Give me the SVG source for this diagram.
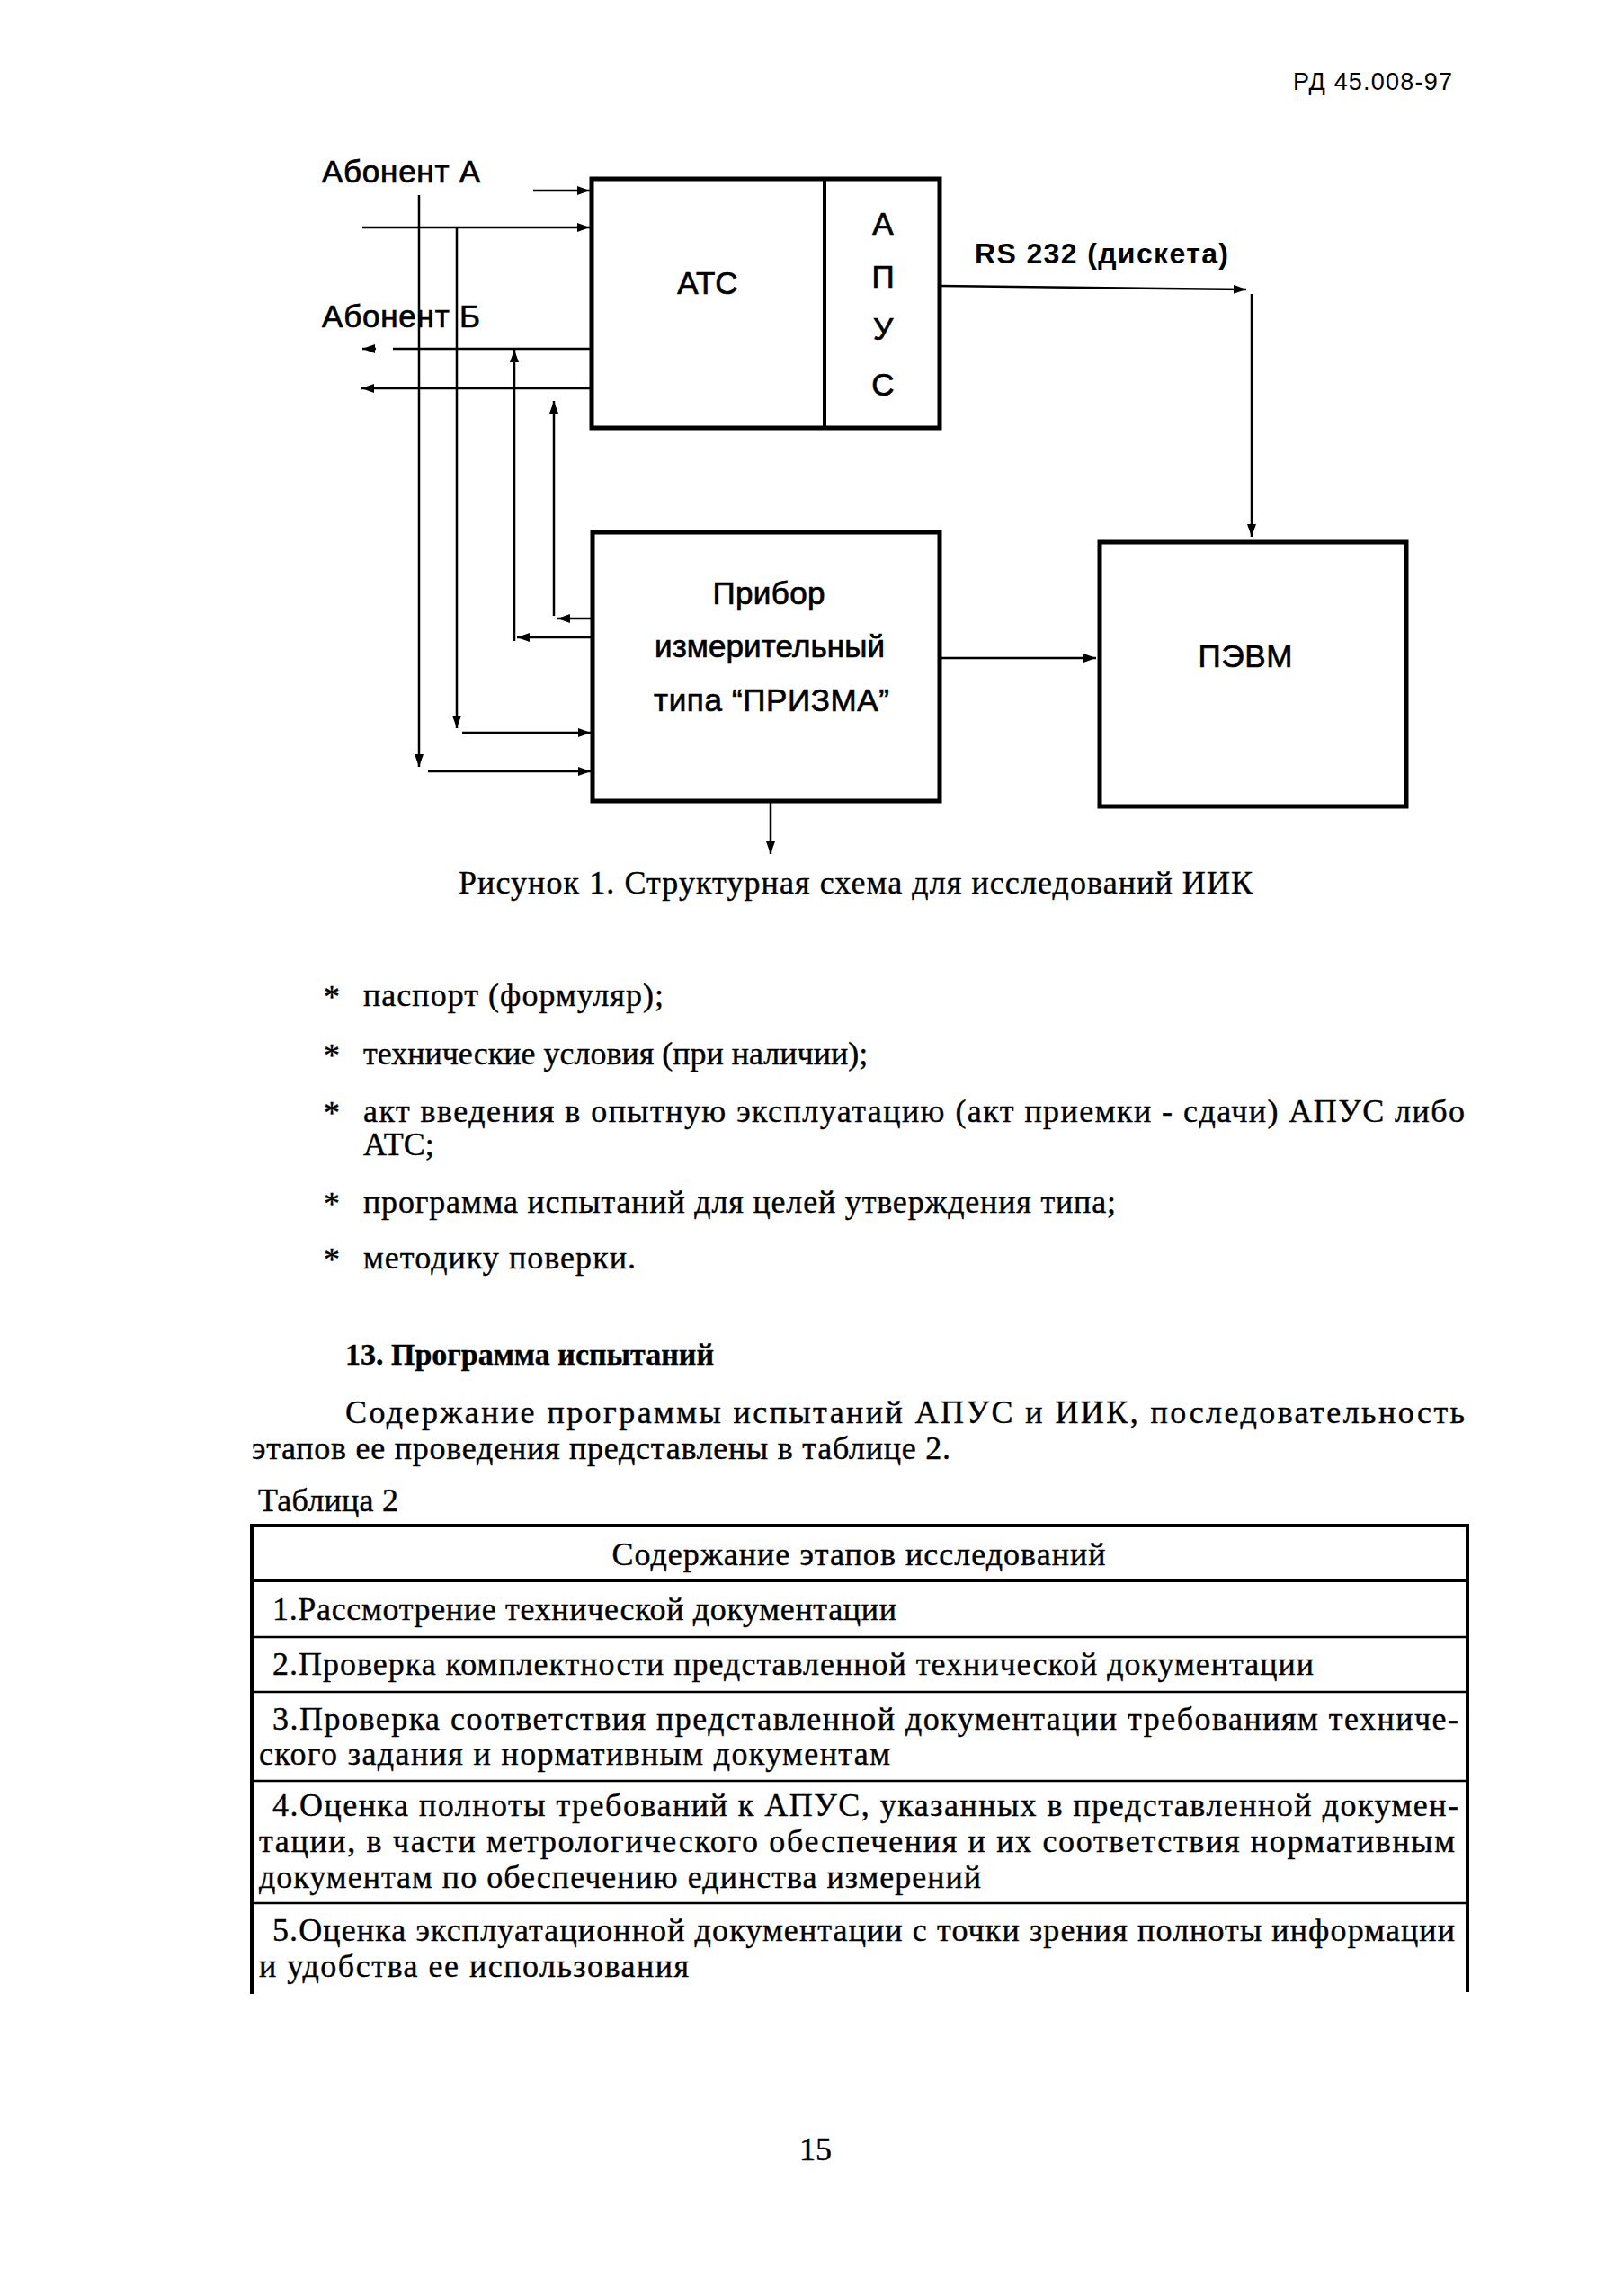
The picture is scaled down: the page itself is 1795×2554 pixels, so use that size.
<svg xmlns="http://www.w3.org/2000/svg" width="1795" height="2554" viewBox="0 0 1795 2554">
<style>
.bg{fill:#ffffff}
.box{fill:none;stroke:#000;stroke-width:5}
.div{stroke:#000;stroke-width:4}
.ln{fill:none;stroke:#000;stroke-width:2.5}
.lbl{font-family:"Liberation Sans",Arial,sans-serif;font-size:35px;fill:#000;stroke:#000;stroke-width:0.7}
.c{text-anchor:middle}
.rs{font-family:"Liberation Sans",Arial,sans-serif;font-size:32px;font-weight:bold;fill:#000}
.hdr{font-family:"Liberation Sans",Arial,sans-serif;font-size:27px;fill:#000}
.tx{font-family:"Liberation Serif","Times New Roman",serif;font-size:36px;fill:#000;stroke:#000;stroke-width:0.4}
.b{font-weight:bold;font-size:34px}
.tb{fill:none;stroke:#000;stroke-width:2.5}
.tbk{fill:none;stroke:#000;stroke-width:4}
</style>
<defs>
<marker id="ah" markerUnits="userSpaceOnUse" markerWidth="16" markerHeight="12" refX="14" refY="5" orient="auto">
<path d="M0,0 L14,5 L0,10 z" fill="#000"/>
</marker>
</defs>
<rect class="bg" x="0" y="0" width="1795" height="2554"/>

<text class="hdr" x="1438" y="100" textLength="177" lengthAdjust="spacing">РД 45.008-97</text>

<g id="labels">
<text class="lbl" x="358" y="203" textLength="176" lengthAdjust="spacing">Абонент А</text>
<text class="lbl" x="358" y="364" textLength="176" lengthAdjust="spacing">Абонент Б</text>
<text class="rs" x="1084" y="293" textLength="282" lengthAdjust="spacing">RS 232 (дискета)</text>
</g>

<g id="node-ats">
<rect class="box" x="658" y="199" width="387" height="277"/>
<text class="lbl c" x="787" y="327">АТС</text>
</g>

<g id="node-apus">
<line class="div" x1="917" y1="199" x2="917" y2="476"/>
<text class="lbl c" x="982" y="261">А</text>
<text class="lbl c" x="982" y="320">П</text>
<text class="lbl c" x="982" y="378">У</text>
<text class="lbl c" x="982" y="440">С</text>
</g>

<g id="node-prizma">
<rect class="box" x="659" y="592" width="386" height="299"/>
<text class="lbl c" x="855" y="672" textLength="125" lengthAdjust="spacing">Прибор</text>
<text class="lbl c" x="856" y="731" textLength="256" lengthAdjust="spacing">измерительный</text>
<text class="lbl c" x="858" y="791" textLength="262" lengthAdjust="spacing">типа “ПРИЗМА”</text>
</g>

<g id="node-pevm">
<rect class="box" x="1223" y="603" width="341" height="294"/>
<text class="lbl c" x="1385" y="742" textLength="105" lengthAdjust="spacing">ПЭВМ</text>
</g>

<g id="connectors">
<path class="ln" d="M593,212 H656" marker-end="url(#ah)"/>
<path class="ln" d="M403,253 H656" marker-end="url(#ah)"/>
<path class="ln" d="M466,217 V853" marker-end="url(#ah)"/>
<path class="ln" d="M476,858 H657" marker-end="url(#ah)"/>
<path class="ln" d="M508,253 V810" marker-end="url(#ah)"/>
<path class="ln" d="M514,815 H657" marker-end="url(#ah)"/>
<path class="ln" d="M658,388 H437 M418,388 H403" marker-end="url(#ah)"/>
<path class="ln" d="M658,432 H402" marker-end="url(#ah)"/>
<path class="ln" d="M658,709 H575" marker-end="url(#ah)"/>
<path class="ln" d="M572,713 V389" marker-end="url(#ah)"/>
<path class="ln" d="M658,688 H620" marker-end="url(#ah)"/>
<path class="ln" d="M616,685 V446" marker-end="url(#ah)"/>
<path class="ln" d="M857,891 V950" marker-end="url(#ah)"/>
<path class="ln" d="M1045,318 L1386,322" marker-end="url(#ah)"/>
<path class="ln" d="M1392,327 V597" marker-end="url(#ah)"/>
<path class="ln" d="M1045,732 H1219" marker-end="url(#ah)"/>
</g>

<g id="caption">
<text class="tx" x="510" y="994" textLength="883" lengthAdjust="spacing">Рисунок 1. Структурная схема для исследований ИИК</text>
</g>

<g id="list">
<text class="tx" x="360" y="1121">*</text>
<text class="tx" x="404" y="1119" textLength="334" lengthAdjust="spacing">паспорт (формуляр);</text>
<text class="tx" x="360" y="1186">*</text>
<text class="tx" x="404" y="1184">технические условия (при наличии);</text>
<text class="tx" x="360" y="1250">*</text>
<text class="tx" x="404" y="1248" textLength="1225" lengthAdjust="spacing">акт введения в опытную эксплуатацию (акт приемки - сдачи) АПУС либо</text>
<text class="tx" x="404" y="1285">АТС;</text>
<text class="tx" x="360" y="1351">*</text>
<text class="tx" x="404" y="1349" textLength="837" lengthAdjust="spacing">программа испытаний для целей утверждения типа;</text>
<text class="tx" x="360" y="1413">*</text>
<text class="tx" x="404" y="1411" textLength="303" lengthAdjust="spacing">методику поверки.</text>
</g>

<g id="section">
<text class="tx b" x="384" y="1518">13. Программа испытаний</text>
<text class="tx" x="384" y="1583" textLength="1245" lengthAdjust="spacing">Содержание программы испытаний АПУС и ИИК, последовательность</text>
<text class="tx" x="280" y="1623" textLength="777" lengthAdjust="spacing">этапов ее проведения представлены в таблице 2.</text>
<text class="tx" x="287" y="1681" textLength="156" lengthAdjust="spacing">Таблица 2</text>
</g>

<g id="table">
<line class="tbk" x1="279" y1="1697" x2="1633" y2="1697"/>
<line class="tbk" x1="279" y1="1758" x2="1633" y2="1758"/>
<line class="tb" x1="279" y1="1821" x2="1633" y2="1821"/>
<line class="tb" x1="279" y1="1882" x2="1633" y2="1882"/>
<line class="tb" x1="279" y1="1981" x2="1633" y2="1981"/>
<line class="tb" x1="279" y1="2117" x2="1633" y2="2117"/>
<line class="tbk" x1="280" y1="1695" x2="280" y2="2218"/>
<line class="tbk" x1="1632" y1="1695" x2="1632" y2="2216"/>
<text class="tx c" x="955" y="1741" textLength="549" lengthAdjust="spacing">Содержание этапов исследований</text>
<text class="tx" x="303" y="1802" textLength="694" lengthAdjust="spacing">1.Рассмотрение технической документации</text>
<text class="tx" x="303" y="1863" textLength="1158" lengthAdjust="spacing">2.Проверка комплектности представленной технической документации</text>
<text class="tx" x="303" y="1924" textLength="1319" lengthAdjust="spacing">3.Проверка соответствия представленной документации требованиям техниче-</text>
<text class="tx" x="288" y="1963" textLength="702" lengthAdjust="spacing">ского задания и нормативным документам</text>
<text class="tx" x="303" y="2020" textLength="1319" lengthAdjust="spacing">4.Оценка полноты требований к АПУС, указанных в представленной докумен-</text>
<text class="tx" x="288" y="2060" textLength="1330" lengthAdjust="spacing">тации, в части метрологического обеспечения и их соответствия нормативным</text>
<text class="tx" x="288" y="2100" textLength="803" lengthAdjust="spacing">документам по обеспечению единства измерений</text>
<text class="tx" x="303" y="2159" textLength="1315" lengthAdjust="spacing">5.Оценка эксплуатационной документации с точки зрения полноты информации</text>
<text class="tx" x="288" y="2199" textLength="478" lengthAdjust="spacing">и удобства ее использования</text>
</g>

<text class="tx c" x="907" y="2403">15</text>
</svg>
